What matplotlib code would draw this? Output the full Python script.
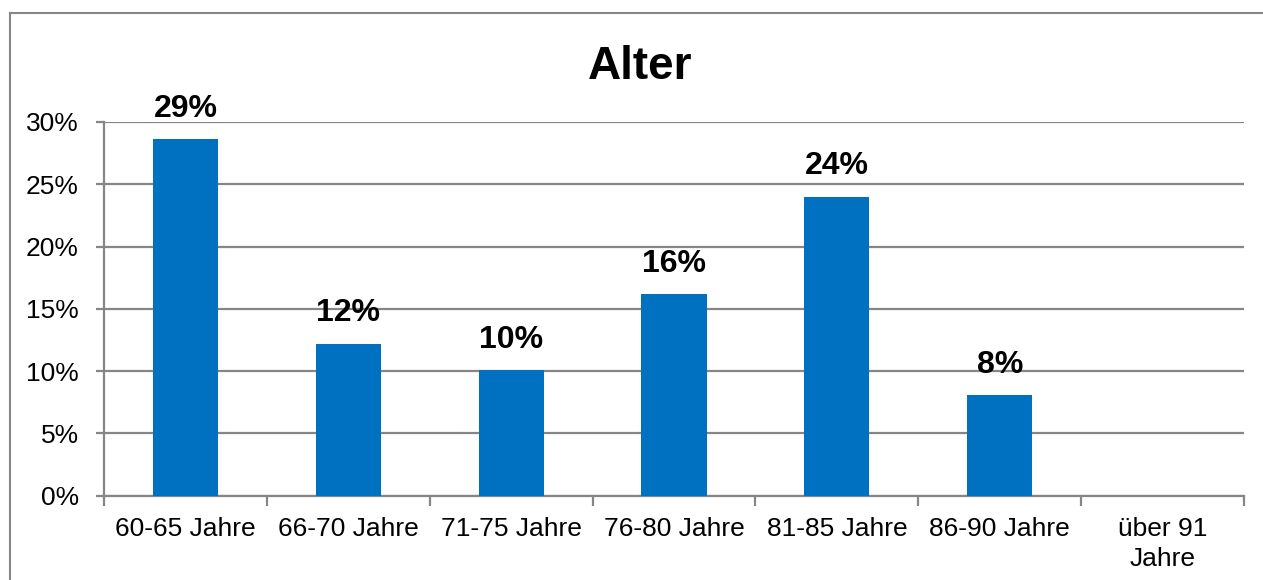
import numpy as np
import matplotlib
matplotlib.use("Agg")
import matplotlib.pyplot as plt
import matplotlib.ticker as ticker
from matplotlib.lines import Line2D

# ── Data ─────────────────────────────────────────────────────
categories = ["60-65 Jahre", "66-70 Jahre", "71-75 Jahre", "76-80 Jahre",
              "81-85 Jahre", "86-90 Jahre", "über 91\nJahre"]
values = [28.6, 12.2, 10.1, 16.2, 24.0, 8.1, 0.0]
labels = ["29%", "12%", "10%", "16%", "24%", "8%", None]

plt.rcParams["font.family"] = ["Liberation Sans", "DejaVu Sans"]

GRAY = "#868686"
BLUE = "#0070C0"

fig = plt.figure(figsize=(12.63, 5.8), dpi=100)
ax = fig.add_axes([0.0823, 0.1453, 0.9027, 0.6444])

x = np.arange(len(categories))
ax.bar(x, values, width=0.40, color=BLUE, zorder=3)

for xi, v, lab in zip(x, values, labels):
    if lab is None:
        continue
    ax.annotate(lab, (xi, v), xytext=(0, 11), textcoords="offset points",
                ha="center", va="bottom", fontsize=23, fontweight="bold")

ax.set_xlim(-0.5, len(categories) - 0.5)
ax.set_ylim(0, 30)
ax.yaxis.set_major_locator(ticker.MultipleLocator(5))
ax.yaxis.set_major_formatter(ticker.FuncFormatter(lambda v, p: f"{v:.0f}%"))
ax.grid(axis="y", color=GRAY, linewidth=1.6, zorder=0)

ax.set_xticks(x)
ax.set_xticklabels(categories, fontsize=19, linespacing=1.35)
ax.set_xticks(np.arange(len(categories) + 1) - 0.5, minor=True)
ax.tick_params(axis="x", which="major", length=0, pad=15)
ax.tick_params(axis="x", which="minor", length=7, width=1.6, color=GRAY)
ax.tick_params(axis="y", length=6, width=1.6, color=GRAY, pad=12, labelsize=19)

for s in ["top", "right"]:
    ax.spines[s].set_visible(False)
for s in ["left", "bottom"]:
    ax.spines[s].set_color(GRAY)
    ax.spines[s].set_linewidth(1.6)

fig.text(0.507, 0.885, "Alter", ha="center", va="center",
         fontsize=33, fontweight="bold")

# outer chart frame (left and top edges visible)
x0 = 10 / 1263
y0 = 1 - 13 / 580
fig.add_artist(Line2D([x0, x0], [0, y0], color=GRAY, linewidth=1.5))
fig.add_artist(Line2D([x0, 1], [y0, y0], color=GRAY, linewidth=1.5))

plt.savefig("out.png", dpi=100)
